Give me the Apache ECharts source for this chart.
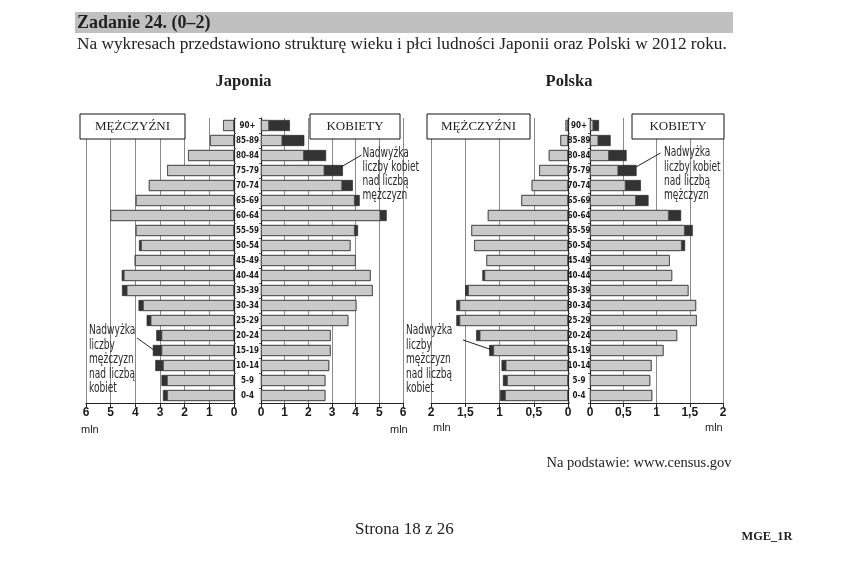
<!DOCTYPE html>
<html>
<head>
<meta charset="utf-8">
<script src="https://cdn.jsdelivr.net/npm/echarts@6/dist/echarts.min.js"></script>
<style>
html,body{margin:0;padding:0;background:#fff;}
#c{width:852px;height:573px;}
</style>
</head>
<body>
<div id="c"></div>
<script>
// Age groups (bottom to top)
const ages = ['0-4','5-9','10-14','15-19','20-24','25-29','30-34','35-39','40-44','45-49','50-54','55-59','60-64','65-69','70-74','75-79','80-84','85-89','90+'];

// Japonia (mln) - grey part and total length on each side
const jpMenGrey    = [2.71,2.72,2.88,2.94,2.94,3.38,3.69,4.35,4.47,4.01,3.77,3.98,5.01,3.98,3.45,2.71,1.86,0.97,0.44];
const jpMenTotal   = [2.88,2.94,3.19,3.29,3.15,3.54,3.87,4.54,4.55,4.03,3.85,3.98,5.01,3.98,3.45,2.71,1.86,0.97,0.44];
const jpWomenGrey  = [2.72,2.72,2.88,2.94,2.94,3.69,4.03,4.72,4.63,4.00,3.78,3.96,5.04,3.96,3.43,2.68,1.81,0.90,0.34];
const jpWomenTotal = [2.72,2.72,2.88,2.94,2.94,3.69,4.03,4.72,4.63,4.00,3.78,4.10,5.31,4.17,3.88,3.46,2.75,1.83,1.22];

// Polska (mln)
const plMenGrey    = [0.92,0.89,0.91,1.09,1.29,1.585,1.585,1.46,1.22,1.19,1.37,1.41,1.17,0.68,0.53,0.42,0.28,0.11,0.035];
const plMenTotal   = [0.99,0.95,0.97,1.15,1.34,1.63,1.63,1.50,1.25,1.19,1.37,1.41,1.17,0.68,0.53,0.42,0.28,0.11,0.035];
const plWomenGrey  = [0.935,0.905,0.925,1.105,1.31,1.605,1.595,1.48,1.235,1.20,1.38,1.425,1.185,0.69,0.535,0.425,0.285,0.125,0.05];
const plWomenTotal = [0.935,0.905,0.925,1.105,1.31,1.605,1.595,1.48,1.235,1.20,1.43,1.545,1.37,0.88,0.765,0.70,0.55,0.31,0.135];

const jpMax = 6, jpStep = 1;
const plMax = 2, plStep = 0.5;

const SANS = "'Liberation Sans', Arial, sans-serif";
const NARROW = "'Liberation Sans Narrow', 'DejaVu Sans Condensed', sans-serif";
const SERIF = "'Liberation Serif', 'Times New Roman', serif";

const chart = echarts.init(document.getElementById('c'), null, {renderer:'canvas'});

const gridTop = 118, gridH = 285;
const grids = [
  {left:86,  top:gridTop, width:148, height:gridH},
  {left:261, top:gridTop, width:142, height:gridH},
  {left:431, top:gridTop, width:137, height:gridH},
  {left:590, top:gridTop, width:133, height:gridH}
];

function xAx(gi, max, step, inverse){
  return {
    gridIndex: gi, type:'value', min:0, max:max, interval:step, inverse:inverse,
    axisLine:{show:true, onZero:false, lineStyle:{color:'#222', width:1}},
    axisTick:{show:true, length:4, lineStyle:{color:'#222'}},
    splitLine:{show:true, lineStyle:{color:'#8a8a8a', width:1}},
    axisLabel:{color:'#1a1a1a', fontFamily:SANS, fontWeight:'bold', fontSize:12, margin:4,
      formatter: v => String(v).replace('.', ',')}
  };
}
function yAx(gi, pos, showLabels, margin){
  return {
    gridIndex: gi, type:'category', data: ages, position: pos, boundaryGap:true,
    axisLine:{show:true, onZero:false, lineStyle:{color:'#222', width:1.2}},
    axisTick:{show:true, length:2, lineStyle:{color:'#555'}},
    splitLine:{show:false},
    axisLabel:{show:showLabels, interval:0, color:'#1a1a1a', fontFamily:NARROW, fontWeight:'bold', fontSize:8, align:'center', margin:margin}
  };
}
function pair(gi, total, grey){
  return [
    {type:'bar', xAxisIndex:gi, yAxisIndex:gi, data: total, barWidth:11, barGap:'-100%',
     itemStyle:{color:'#333333', borderColor:'#222', borderWidth:0.6}, silent:true, z:2},
    {type:'bar', xAxisIndex:gi, yAxisIndex:gi, data: grey, barWidth:11, barGap:'-100%',
     itemStyle:{color:'#c9c9c9', borderColor:'#4a4a4a', borderWidth:0.8}, silent:true, z:3}
  ];
}

function txt(x, y, s, font, align){
  return {type:'text', z:100, style:{x:x, y:y, text:s, font:font, fill:'#222', textAlign:align||'left', textVerticalAlign:'middle'}};
}
// condensed annotation text (horizontally squeezed like the original)
function ntxt(x, y, s){
  return {type:'text', z:100, x:x, y:y, scaleX:0.72, scaleY:1,
    style:{x:0, y:0, text:s, font:'14px '+NARROW, fill:'#2a2a2a', textAlign:'left', textVerticalAlign:'middle'}};
}
function lines(x, ys, arr){
  return arr.map((s,i)=>ntxt(x, ys[i], s));
}
function box(x, y, w, h, label){
  return [
    {type:'rect', z:100, shape:{x:x, y:y, width:w, height:h}, style:{fill:'#fff', stroke:'#111', lineWidth:1}},
    {type:'text', z:101, style:{x:x+w/2, y:y+h/2+0.5, text:label, font:'13px '+SERIF, fill:'#222', textAlign:'center', textVerticalAlign:'middle'}}
  ];
}
function seg(x1,y1,x2,y2){
  return {type:'line', z:100, shape:{x1:x1,y1:y1,x2:x2,y2:y2}, style:{stroke:'#222', lineWidth:1}};
}

const menNote = ['Nadwyżka','liczby','mężczyzn','nad liczbą','kobiet'];
const womenNote = ['Nadwyżka','liczby kobiet','nad liczbą','mężczyzn'];

const graphic = [].concat(
  [{type:'rect', z:90, shape:{x:75, y:12, width:658, height:21}, style:{fill:'#c0c0c0'}}],
  [txt(77, 23, 'Zadanie 24. (0–2)', 'bold 18px '+SERIF)],
  [txt(77, 44, 'Na wykresach przedstawiono strukturę wieku i płci ludności Japonii oraz Polski w 2012 roku.', '17.3px '+SERIF)],
  [txt(243.5, 82, 'Japonia', 'bold 16.5px '+SERIF, 'center')],
  [txt(569, 82, 'Polska', 'bold 16.5px '+SERIF, 'center')],
  box(80, 114, 105, 25, 'MĘŻCZYŹNI'),
  box(310, 114, 90, 25, 'KOBIETY'),
  box(427, 114, 103, 25, 'MĘŻCZYŹNI'),
  box(632, 114, 92, 25, 'KOBIETY'),
  lines(89, [330,345,359.5,374,388.5], menNote),
  lines(362.5, [153.5,167.5,181.5,195.5], womenNote),
  lines(406, [330,345,359.5,374,388.5], menNote),
  lines(664, [152.5,167,181,195.5], womenNote),
  [seg(137,338,154.5,350.5), seg(361.5,155,341,167), seg(463,340,491,349.5), seg(660.5,153,636,167)],
  [txt(81, 430, 'mln', '11px '+SANS), txt(390, 430, 'mln', '11px '+SANS),
   txt(433, 428, 'mln', '11px '+SANS), txt(705, 428, 'mln', '11px '+SANS)],
  [txt(546.5, 463, 'Na podstawie: www.census.gov', '14.5px '+SERIF)],
  [txt(355, 530, 'Strona 18 z 26', '17px '+SERIF)],
  [txt(741.5, 537, 'MGE_1R', 'bold 12.4px '+SERIF)]
);

chart.setOption({
  animation:false,
  backgroundColor:'#fff',
  grid: grids,
  xAxis: [xAx(0, jpMax, jpStep, true), xAx(1, jpMax, jpStep, false), xAx(2, plMax, plStep, true), xAx(3, plMax, plStep, false)],
  yAxis: [yAx(0,'right',false,0), yAx(1,'left',true,13.5), yAx(2,'right',false,0), yAx(3,'left',true,11)],
  series: [].concat(pair(0, jpMenTotal, jpMenGrey), pair(1, jpWomenTotal, jpWomenGrey), pair(2, plMenTotal, plMenGrey), pair(3, plWomenTotal, plWomenGrey)),
  graphic: graphic
});
</script>
</body>
</html>
